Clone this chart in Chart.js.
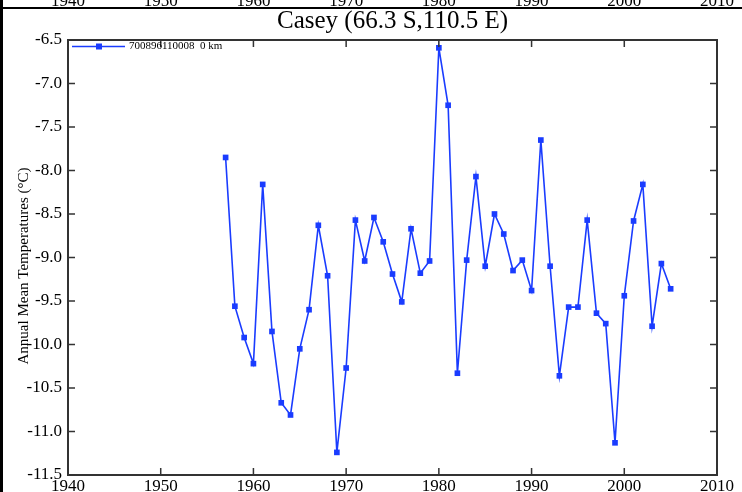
<!DOCTYPE html>
<html>
<head>
<meta charset="utf-8">
<script src="https://cdn.jsdelivr.net/npm/chart.js@4.4.1/dist/chart.umd.min.js"></script>
<style>
  html, body { margin: 0; padding: 0; background: #fff; }
</style>
</head>
<body>
<canvas id="tempChart" width="742" height="492"></canvas>
<script>
// --- Data ---
const years = [1957, 1958, 1959, 1960, 1961, 1962, 1963, 1964, 1965, 1966,
               1967, 1968, 1969, 1970, 1971, 1972, 1973, 1974, 1975, 1976,
               1977, 1978, 1979, 1980, 1981, 1982, 1983, 1984, 1985, 1986,
               1987, 1988, 1989, 1990, 1991, 1992, 1993, 1994, 1995, 1996,
               1997, 1998, 1999, 2000, 2001, 2002, 2003, 2004, 2005];
const temps = [-7.85, -9.56, -9.92, -10.22, -8.16, -9.85, -10.67, -10.81, -10.05, -9.60,
               -8.63, -9.21, -11.24, -10.27, -8.57, -9.04, -8.54, -8.82, -9.19, -9.51,
               -8.67, -9.18, -9.04, -6.59, -7.25, -10.33, -9.03, -8.07, -9.10, -8.50,
               -8.73, -9.15, -9.03, -9.38, -7.65, -9.10, -10.36, -9.57, -9.57, -8.57,
               -9.64, -9.76, -11.13, -9.44, -8.58, -8.16, -9.79, -9.07, -9.36];

const xTicks = [1940, 1950, 1960, 1970, 1980, 1990, 2000, 2010];
const yTicks = [-11.5, -11.0, -10.5, -10.0, -9.5, -9.0, -8.5, -8.0, -7.5, -7.0, -6.5];

const chartTitle = 'Casey (66.3 S,110.5 E)';
const seriesLabel = '700896110008  0 km';
const yAxisTitle = 'Annual Mean Temperatures (\u00B0C)';

const lineColor = '#1a3cff';
const serif = '"Liberation Serif", "Times New Roman", serif';

// --- Frame, inward ticks, titles, legend ---
const framePlugin = {
    id: 'frame',
    afterDraw(chart) {
        const ctx = chart.ctx;
        const area = chart.chartArea;
        const xs = chart.scales.x;
        const ys = chart.scales.y;
        const tick = 7;

        ctx.save();

        // plot box
        ctx.strokeStyle = '#333';
        ctx.lineWidth = 2;
        ctx.strokeRect(area.left, area.top, area.right - area.left, area.bottom - area.top);

        // inward ticks on all four sides
        ctx.lineWidth = 1.5;
        ctx.beginPath();
        xTicks.forEach(v => {
            const x = xs.getPixelForValue(v);
            ctx.moveTo(x, area.bottom);
            ctx.lineTo(x, area.bottom - tick);
            ctx.moveTo(x, area.top);
            ctx.lineTo(x, area.top + tick);
        });
        yTicks.forEach(v => {
            const y = ys.getPixelForValue(v);
            ctx.moveTo(area.left, y);
            ctx.lineTo(area.left + tick, y);
            ctx.moveTo(area.right, y);
            ctx.lineTo(area.right - tick, y);
        });
        ctx.stroke();

        // title
        ctx.fillStyle = '#000';
        ctx.font = '25px ' + serif;
        ctx.textAlign = 'center';
        ctx.textBaseline = 'middle';
        ctx.fillText(chartTitle, (area.left + area.right) / 2, 21);

        // y axis title
        ctx.save();
        ctx.translate(24, 266);
        ctx.rotate(-Math.PI / 2);
        ctx.font = '15px ' + serif;
        ctx.fillText(yAxisTitle, 0, 0);
        ctx.restore();

        // legend
        const ly = area.top + 6.5;
        ctx.strokeStyle = lineColor;
        ctx.lineWidth = 1.6;
        ctx.beginPath();
        ctx.moveTo(area.left + 4, ly);
        ctx.lineTo(area.left + 57, ly);
        ctx.stroke();
        ctx.fillStyle = lineColor;
        ctx.fillRect(area.left + 28, ly - 3, 6, 6);
        ctx.fillStyle = '#000';
        ctx.font = '11px ' + serif;
        ctx.textAlign = 'left';
        ctx.fillText(seriesLabel, area.left + 61, ly);

        // strip of the previous panel above
        ctx.save();
        ctx.beginPath();
        ctx.rect(0, 0, chart.width, 7);
        ctx.clip();
        ctx.font = '17px ' + serif;
        ctx.textAlign = 'center';
        ctx.textBaseline = 'alphabetic';
        xTicks.forEach(v => ctx.fillText(String(v), xs.getPixelForValue(v), 6));
        ctx.restore();
        ctx.fillStyle = '#000';
        ctx.fillRect(0, 7, chart.width, 2);
        ctx.fillRect(0, 0, 3, chart.height);

        ctx.restore();
    }
};

const whiteBg = {
    id: 'whiteBg',
    beforeDraw(chart) {
        const ctx = chart.ctx;
        ctx.save();
        ctx.fillStyle = '#fff';
        ctx.fillRect(0, 0, chart.width, chart.height);
        ctx.restore();
    }
};

new Chart(document.getElementById('tempChart').getContext('2d'), {
    type: 'line',
    data: {
        datasets: [{
            label: seriesLabel,
            data: years.map((yr, i) => ({ x: yr, y: temps[i] })),
            borderColor: lineColor,
            backgroundColor: lineColor,
            borderWidth: 1.6,
            pointStyle: 'rect',
            pointRadius: 4,
            pointBorderWidth: 0,
            pointBackgroundColor: lineColor,
            tension: 0,
            fill: false
        }]
    },
    options: {
        responsive: false,
        animation: false,
        devicePixelRatio: 1,
        layout: { padding: { top: 40, right: 25, left: 0, bottom: 0 } },
        plugins: {
            legend: { display: false },
            title: { display: false },
            tooltip: { enabled: false }
        },
        scales: {
            x: {
                type: 'linear',
                min: 1940,
                max: 2010,
                afterBuildTicks: s => { s.ticks = xTicks.map(v => ({ value: v })); },
                afterFit: s => { s.height = 17; },
                grid: { display: false, drawTicks: false },
                border: { display: false },
                ticks: {
                    color: '#000',
                    font: { family: serif, size: 17 },
                    padding: 1,
                    maxRotation: 0,
                    autoSkip: false,
                    callback: v => String(v)
                }
            },
            y: {
                min: -11.5,
                max: -6.5,
                afterBuildTicks: s => { s.ticks = yTicks.map(v => ({ value: v })); },
                afterFit: s => { s.width = 68; },
                grid: { display: false, drawTicks: false },
                border: { display: false },
                ticks: {
                    color: '#000',
                    font: { family: serif, size: 17 },
                    padding: 6,
                    autoSkip: false,
                    callback: v => v.toFixed(1)
                }
            }
        }
    },
    plugins: [whiteBg, framePlugin]
});
</script>
</body>
</html>
